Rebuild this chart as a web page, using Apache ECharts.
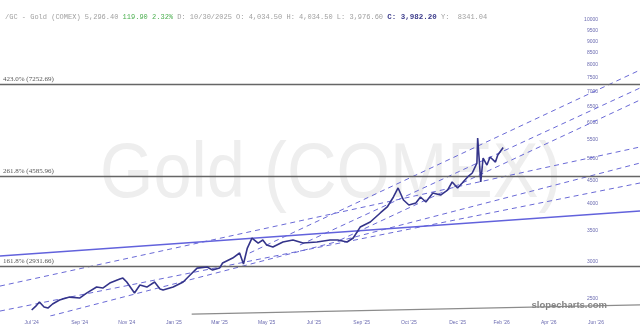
<!DOCTYPE html>
<html>
<head>
<meta charset="utf-8">
<script src="https://cdn.jsdelivr.net/npm/echarts@6/dist/echarts.min.js"></script>
<style>
  html, body { margin: 0; padding: 0; background: #ffffff; }
  #chart { width: 640px; height: 331px; }
</style>
</head>
<body>
<div id="chart"></div>
<script>
// Gold (COMEX) front-month closes
const priceDates = [
  '2024-07-01','2024-07-06','2024-07-11','2024-07-17','2024-07-22','2024-07-28','2024-08-06','2024-08-19',
  '2024-09-01','2024-09-10','2024-09-23','2024-10-01','2024-10-10','2024-10-23','2024-10-27','2024-11-01',
  '2024-11-11','2024-11-18','2024-11-27','2024-12-07','2024-12-14','2024-12-18','2024-12-31','2025-01-13',
  '2025-01-22','2025-01-31','2025-02-13','2025-02-20','2025-03-01','2025-03-05','2025-03-18','2025-03-27',
  '2025-04-01','2025-04-06','2025-04-12','2025-04-13','2025-04-20','2025-04-26','2025-05-01','2025-05-09',
  '2025-05-22','2025-06-04','2025-06-17','2025-07-05','2025-07-22','2025-08-01','2025-08-13','2025-08-21',
  '2025-08-30','2025-09-12','2025-09-25','2025-10-04','2025-10-12','2025-10-18','2025-10-25','2025-11-01',
  '2025-11-10','2025-11-16','2025-11-23','2025-12-02','2025-12-12','2025-12-21','2025-12-27','2026-01-03',
  '2026-01-09','2026-01-16','2026-01-22','2026-01-28','2026-01-29','2026-02-02','2026-02-05','2026-02-10',
  '2026-02-14','2026-02-21','2026-02-24','2026-03-03'
];
const priceValues = [
  2357, 2400, 2453, 2393, 2380, 2429, 2477, 2514,
  2502, 2565, 2643, 2630, 2696, 2750, 2764, 2710,
  2565, 2670, 2643, 2710, 2617, 2604, 2643, 2710,
  2806, 2905, 2920, 2876, 2905, 2979, 3054, 3132,
  2965, 3210, 3374, 3391, 3291, 3341, 3259, 3227,
  3308, 3341, 3291, 3308, 3341, 3341, 3308, 3374,
  3564, 3655, 3823, 3939, 4140, 4330, 4078, 3978,
  4018, 4140, 4038, 4222, 4180, 4286, 4461, 4330,
  4439, 4574, 4666, 4903, 5554, 4461, 5027, 4854,
  5052, 4927, 5103, 5296
];

// Fibonacci extension levels
const fibLevels = [7252.69, 4585.96, 2931.66];
const fibLabels = ['423.0% (7252.69)', '261.8% (4585.96)', '161.8% (2931.66)'];

// Trend lines: [startDate, startPrice, endDate, endPrice]
const supportLine = ['2024-05-21', 3085, '2026-08-27', 3861];
const baseLine = ['2025-01-24', 2310, '2026-08-27', 2418];
const channelLines = [
  // shallow channel
  ['2024-05-21', 2656, '2026-08-27', 5311],
  ['2024-07-25', 2288, '2026-08-27', 4903],
  ['2024-05-21', 2345, '2026-08-27', 4439],
  // steep channel
  ['2025-04-09', 3132, '2026-08-27', 7794],
  ['2025-06-13', 3259, '2026-08-27', 7126],
  ['2025-08-04', 3341, '2026-08-27', 6712]
];

// Axis ticks
const yTickValues = [2500, 3000, 3500, 4000, 4500, 5000, 5500, 6000, 6500, 7000, 7500, 8000, 8500, 9000, 9500, 10000];
const xTickDates = ['2024-07-01','2024-09-01','2024-11-01','2025-01-01','2025-03-01','2025-05-01','2025-07-01',
  '2025-09-01','2025-11-01','2026-01-03','2026-03-01','2026-05-01','2026-07-01'];
const xTickLabels = ["Jul '24","Sep '24","Nov '24","Jan '25","Mar '25","May '25","Jul '25",
  "Sep '25","Oct '25","Dec '25","Feb '26","Apr '26","Jun '26"];

const xMin = '2024-05-21';
const xMax = '2026-08-27';

const chart = echarts.init(document.getElementById('chart'), null, { renderer: 'canvas' });

const ts = d => new Date(d + 'T00:00:00Z').getTime();
const xTickTs = xTickDates.map(ts);

const series = [];

// channel lines
channelLines.forEach((l, i) => {
  series.push({
    type: 'line', name: 'channel' + i, silent: true, symbol: 'none', animation: false,
    lineStyle: { color: '#6a6ad6', width: 1, type: [5, 4] },
    data: [[ts(l[0]), l[1]], [ts(l[2]), l[3]]], z: 2
  });
});

// long-term support
series.push({
  type: 'line', name: 'support', silent: true, symbol: 'none', animation: false,
  lineStyle: { color: '#6262dc', width: 1.4 },
  data: [[ts(supportLine[0]), supportLine[1]], [ts(supportLine[2]), supportLine[3]]], z: 3
});

// base line
series.push({
  type: 'line', name: 'base', silent: true, symbol: 'none', animation: false,
  lineStyle: { color: '#8c8c8c', width: 1.3 },
  data: [[ts(baseLine[0]), baseLine[1]], [ts(baseLine[2]), baseLine[3]]], z: 3
});

// Fibonacci levels
series.push({
  type: 'line', name: 'fib', silent: true, symbol: 'none', animation: false,
  data: [],
  markLine: {
    silent: true, symbol: 'none', animation: false,
    lineStyle: { color: '#666666', width: 1.3, type: 'solid' },
    label: {
      position: 'insideStartTop', distance: [3, 2],
      fontFamily: 'Liberation Serif', fontSize: 7, color: '#555555'
    },
    data: fibLevels.map((v, i) => ({ yAxis: v, label: { formatter: fibLabels[i] } }))
  },
  z: 4
});

// price
series.push({
  type: 'line', name: 'Gold', symbol: 'none', animation: false,
  lineStyle: { color: '#34348a', width: 1.6 },
  data: priceDates.map((d, i) => [ts(d), priceValues[i]]), z: 5
});

chart.setOption({
  backgroundColor: '#ffffff',
  animation: false,
  grid: { left: 0, right: 0, top: 0, bottom: 15 },
  graphic: [
    {
      type: 'text', left: 100, top: 136, scaleX: 0.88, z: -1, silent: true,
      style: { text: 'Gold (COMEX)', font: '78px "Liberation Sans"', fill: '#eeeeee' }
    },
    {
      type: 'text', left: 5, top: 13, silent: true,
      style: {
        rich: {
          g: { fontFamily: 'Liberation Mono', fontSize: 7, fill: '#a0a0a0' },
          up: { fontFamily: 'Liberation Mono', fontSize: 7, fill: '#4caf50' },
          c: { fontFamily: 'Liberation Mono', fontSize: 7.5, fontWeight: 'bold', fill: '#3a3a8a' }
        },
        text: '{g|/GC - Gold (COMEX) 5,296.40 }{up|119.90 2.32%}{g| D: 10/30/2025 O: 4,034.50 H: 4,034.50 L: 3,976.60 }{c|C: 3,982.20}{g| Y:  8341.04}'
      }
    },
    {
      type: 'text', right: 33, top: 300, silent: true, z: 10,
      style: { text: 'slopecharts.com', font: 'bold 9.5px "Liberation Sans"', fill: '#858585' }
    }
  ],
  xAxis: {
    type: 'value', min: ts(xMin), max: ts(xMax),
    axisLine: { show: false }, axisTick: { show: false }, splitLine: { show: false },
    axisLabel: {
      customValues: xTickTs,
      formatter: (v) => { const i = xTickTs.indexOf(v); return i >= 0 ? xTickLabels[i] : ''; },
      fontSize: 5, color: '#6a6ab0', fontFamily: 'Liberation Sans', margin: 4
    }
  },
  yAxis: {
    type: 'log', position: 'right', min: 2288, max: 11048,
    axisLine: { show: false }, axisTick: { show: false }, splitLine: { show: false },
    axisLabel: {
      customValues: yTickValues, inside: true, margin: 42, align: 'right',
      formatter: (v) => String(Math.round(v)),
      fontSize: 5, color: '#6a6ab0', fontFamily: 'Liberation Sans'
    }
  },
  series: series
});
</script>
</body>
</html>
